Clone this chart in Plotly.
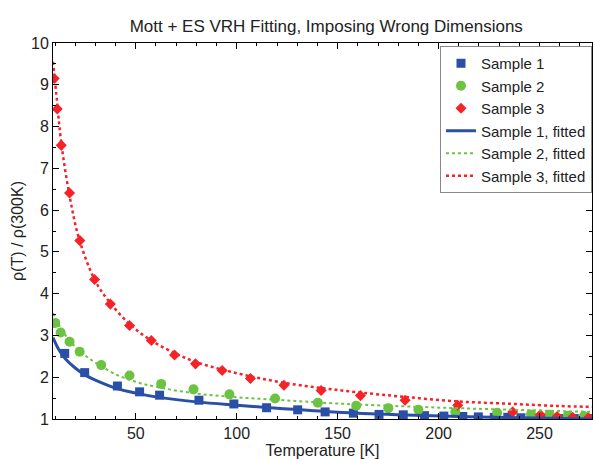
import plotly.graph_objects as go

# ---- data ----
s1_T = [14.8, 24.7, 40.9, 51.9, 61.8, 81.3, 98.6, 114.8, 130.2, 143.8, 157.8, 170.5, 182.5,
        193.0, 202.6, 212.0, 219.7, 227.6, 234.3, 240.8, 247.4, 254.0, 260.6, 267.2, 273.9]
s1_y = [2.57, 2.11, 1.79, 1.65, 1.57, 1.45, 1.36, 1.27, 1.22, 1.17, 1.14, 1.11, 1.10,
        1.08, 1.07, 1.06, 1.05, 1.04, 1.04, 1.03, 1.02, 1.02, 1.01, 1.01, 1.01]

s2_T = [10.1, 12.8, 17.2, 22.2, 32.9, 46.9, 62.6, 78.6, 96.4, 119.0, 140.2, 159.2, 175.1,
        190.0, 208.3, 229.0, 245.8, 255.0, 264.0, 272.0]
s2_y = [3.30, 3.07, 2.85, 2.61, 2.29, 2.04, 1.84, 1.71, 1.59, 1.49, 1.39, 1.32, 1.26,
        1.22, 1.17, 1.15, 1.11, 1.10, 1.08, 1.07]

s3_T = [9.6, 11.1, 13.1, 17.2, 22.3, 29.6, 37.4, 46.9, 57.7, 69.2, 79.6, 92.8, 106.8,
        123.4, 141.8, 161.3, 183.4, 209.5, 236.7, 250.4, 258.7, 266.4, 274.2]
s3_y = [9.15, 8.42, 7.55, 6.41, 5.27, 4.34, 3.75, 3.24, 2.88, 2.53, 2.32, 2.16, 1.97,
        1.81, 1.68, 1.56, 1.45, 1.33, 1.17, 1.10, 1.06, 1.04, 1.03]

f1_T = [9, 12, 15, 20, 25, 30, 40, 50, 60, 80, 100, 120, 150, 180, 210, 240, 276]
f1_y = [2.95, 2.65, 2.45, 2.22, 2.05, 1.93, 1.74, 1.62, 1.53, 1.41, 1.33, 1.26, 1.16,
        1.10, 1.06, 1.03, 1.00]

f2_T = [9, 12, 15, 20, 25, 30, 40, 50, 60, 80, 100, 120, 150, 190, 230, 276]
f2_y = [3.53, 3.25, 3.02, 2.73, 2.52, 2.35, 2.07, 1.89, 1.77, 1.61, 1.52, 1.46, 1.37,
        1.29, 1.23, 1.17]

f3_T = [9, 11, 13, 17, 22, 30, 37, 47, 58, 70, 80, 93, 107, 123, 142, 160, 183, 210,
        237, 260, 276]
f3_y = [9.55, 8.6, 7.65, 6.4, 5.3, 4.3, 3.8, 3.27, 2.87, 2.56, 2.36, 2.18, 2.02, 1.87,
        1.74, 1.64, 1.53, 1.42, 1.36, 1.31, 1.29]

x_ticks = [50, 100, 150, 200, 250]
y_ticks = [1, 2, 3, 4, 5, 6, 7, 8, 9, 10]

BLUE = "#2a4fa6"
GREEN = "#6cc342"
RED = "#f52228"
FONT = "Arial, Liberation Sans, Helvetica, sans-serif"

fig = go.Figure()
fig.add_trace(go.Scatter(x=s1_T, y=s1_y, mode="markers", name="Sample 1",
                         marker=dict(symbol="square", size=9, color=BLUE)))
fig.add_trace(go.Scatter(x=s2_T, y=s2_y, mode="markers", name="Sample 2",
                         marker=dict(symbol="circle", size=10, color=GREEN)))
fig.add_trace(go.Scatter(x=s3_T, y=s3_y, mode="markers", name="Sample 3",
                         marker=dict(symbol="diamond", size=8.5, color=RED)))
fig.add_trace(go.Scatter(x=f1_T, y=f1_y, mode="lines", name="Sample 1, fitted",
                         line=dict(color=BLUE, width=3, shape="spline")))
fig.add_trace(go.Scatter(x=f2_T, y=f2_y, mode="lines", name="Sample 2, fitted",
                         line=dict(color=GREEN, width=2, dash="dot", shape="spline")))
fig.add_trace(go.Scatter(x=f3_T, y=f3_y, mode="lines", name="Sample 3, fitted",
                         line=dict(color=RED, width=2.5, dash="dot", shape="spline")))

axis_common = dict(showline=True, linecolor="black", linewidth=1, mirror="allticks",
                   ticks="inside", ticklen=6, tickcolor="black", showgrid=False,
                   zeroline=False, automargin=False,
                   tickfont=dict(size=16, color="#222"))

fig.update_xaxes(range=[9, 276], tickvals=x_ticks, ticktext=[str(v) for v in x_ticks],
                 minor=dict(ticks="inside", dtick=10, tick0=0, ticklen=3, tickcolor="black"),
                 title=dict(text="Temperature [K]", font=dict(size=16, color="#222"), standoff=2),
                 **axis_common)
fig.update_yaxes(range=[1, 10], tickvals=y_ticks, ticktext=[str(v) for v in y_ticks],
                 minor=dict(ticks="inside", dtick=0.5, tick0=0, ticklen=3, tickcolor="black"),
                 title=dict(text="ρ(T) / ρ(300K)", font=dict(size=16, color="#222"), standoff=3),
                 **axis_common)

fig.update_layout(
    width=593, height=459,
    margin=dict(l=53, r=1, t=43, b=40),
    paper_bgcolor="white", plot_bgcolor="white",
    font=dict(family=FONT, color="#222"),
    title=dict(text="Mott + ES VRH Fitting, Imposing Wrong Dimensions",
               font=dict(size=17, color="#222"), x=0.507, xref="paper",
               y=1 - 26 / 459, yanchor="middle"),
    showlegend=True,
    legend=dict(x=1, xanchor="right", y=0.992, yanchor="top",
                bgcolor="white", bordercolor="#888", borderwidth=1,
                font=dict(size=15, color="#222"), itemwidth=30,
                tracegroupgap=0),
)

fig.write_html("out.html", config={"displayModeBar": False},
               post_script="document.body.style.margin='0px';")
